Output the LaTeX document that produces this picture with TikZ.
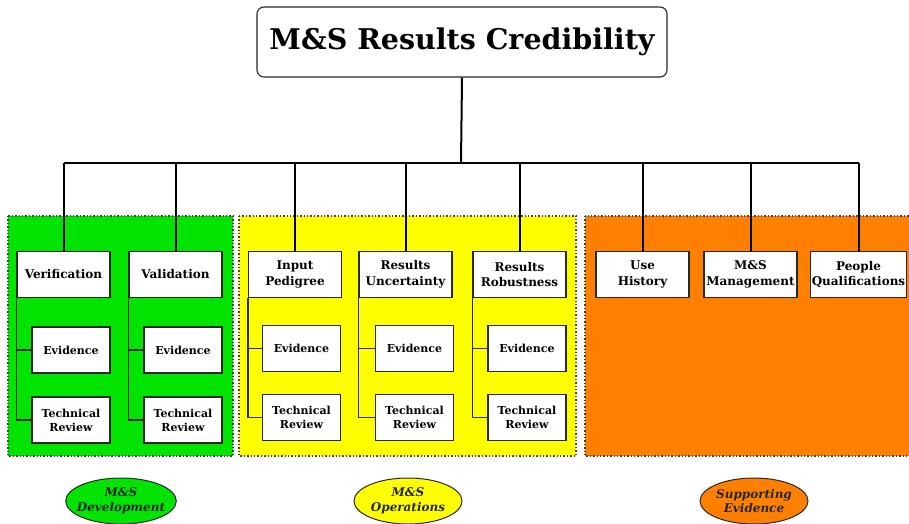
\documentclass[tikz,border=0pt]{standalone}
\usepackage{fontspec}
\setmainfont{DejaVu Serif}
\usetikzlibrary{shapes.geometric}
\definecolor{regGreen}{RGB}{0,228,0}
\definecolor{regYellow}{RGB}{255,255,0}
\definecolor{regOrange}{RGB}{255,128,0}
\definecolor{edgeDark}{RGB}{40,40,40}
\tikzset{
  topbox/.style={draw=edgeDark, line width=1.1pt, fill=white, minimum width=93pt, minimum height=46pt, inner sep=1pt, align=center, font=\fontsize{12}{15.5}\selectfont\bfseries},
  subbox/.style={draw=edgeDark, line width=1.1pt, fill=white, minimum width=78pt, minimum height=46pt, inner sep=1pt, align=center, font=\fontsize{11}{14}\selectfont\bfseries},
  region/.style={draw=black!75, line width=1.4pt, dotted},
  tree/.style={line width=2pt, black},
  branch/.style={line width=1.1pt, edgeDark},
  tag/.style={ellipse, draw=edgeDark, line width=1pt, minimum width=108pt, minimum height=46pt, inner xsep=-5pt, inner ysep=0pt, align=center, font=\fontsize{12}{14.5}\selectfont\bfseries\itshape, text=black!85}
}
\begin{document}
\begin{tikzpicture}[x=1pt,y=-1pt]
\useasboundingbox (0,0) rectangle (909,523);
\clip (0,0) rectangle (909,523);
% regions
\fill[regGreen] (8,216) rectangle (233,456);
\draw[region] (8,216) rectangle (233,456);
\fill[regYellow] (239,216) rectangle (576,456);
\draw[region] (239,216) rectangle (576,456);
\fill[regOrange] (585,216) rectangle (925,456);
\draw[region] (585,216) rectangle (925,456);
% title
\node[draw=edgeDark, line width=1.1pt, rounded corners=7pt, fill=white, minimum width=410pt, minimum height=70pt, font=\fontsize{28.5}{32}\selectfont\bfseries] (title) at (462,42) {\raisebox{-2pt}{M\&S Results Credibility}};
% top boxes
\node[topbox] (ver) at (63.5,274.5) {Verification};
\node[topbox] (val) at (175.5,274.5) {Validation};
\node[topbox] (inp) at (295,274.5) {Input\\Pedigree};
\node[topbox] (unc) at (405.5,274.5) {Results\\Uncertainty};
\node[topbox] (rob) at (519.5,274.5) {Results\\Robustness};
\node[topbox] (use) at (642.5,274.5) {Use\\History};
\node[topbox] (mgt) at (750.5,274.5) {M\&S\\Management};
\node[topbox] (ppl) at (858.5,274.5) {People\\Qualifications};
% sub boxes
\node[subbox] (verE) at (71,350) {Evidence};
\node[subbox] (verT) at (71,420) {Technical\\Review};
\node[subbox] (valE) at (183,350) {Evidence};
\node[subbox] (valT) at (183,420) {Technical\\Review};
\node[subbox] (inpE) at (301.5,348.5) {Evidence};
\node[subbox] (inpT) at (301.5,417.5) {Technical\\Review};
\node[subbox] (uncE) at (414.5,348.5) {Evidence};
\node[subbox] (uncT) at (414.5,417.5) {Technical\\Review};
\node[subbox] (robE) at (527,348.5) {Evidence};
\node[subbox] (robT) at (527,417.5) {Technical\\Review};
% tree
\coordinate (bus) at (461,163);
\draw[tree] (title.south) -- (bus);
\draw[tree] (ver.north |- bus) -- (ppl.north |- bus);
\foreach \n in {ver,val,inp,unc,rob,use,mgt,ppl}{
  \draw[tree] (\n.north |- bus) -- (\n.north);
}
% branches
\foreach \p in {ver,val,inp,unc,rob}{
  \draw[branch] (\p.south west) |- (\p T.west);
  \draw[branch] (\p.south west |- \p E.west) -- (\p E.west);
}
% tags
\node[tag, fill=regGreen] (tDev) at (121,501) {M\&S\\Development};
\node[tag, fill=regYellow] (tOps) at (408,501) {M\&S\\Operations};
\node[tag, fill=regOrange] (tSup) at (754,501) {Supporting\\Evidence};
\end{tikzpicture}
\end{document}
